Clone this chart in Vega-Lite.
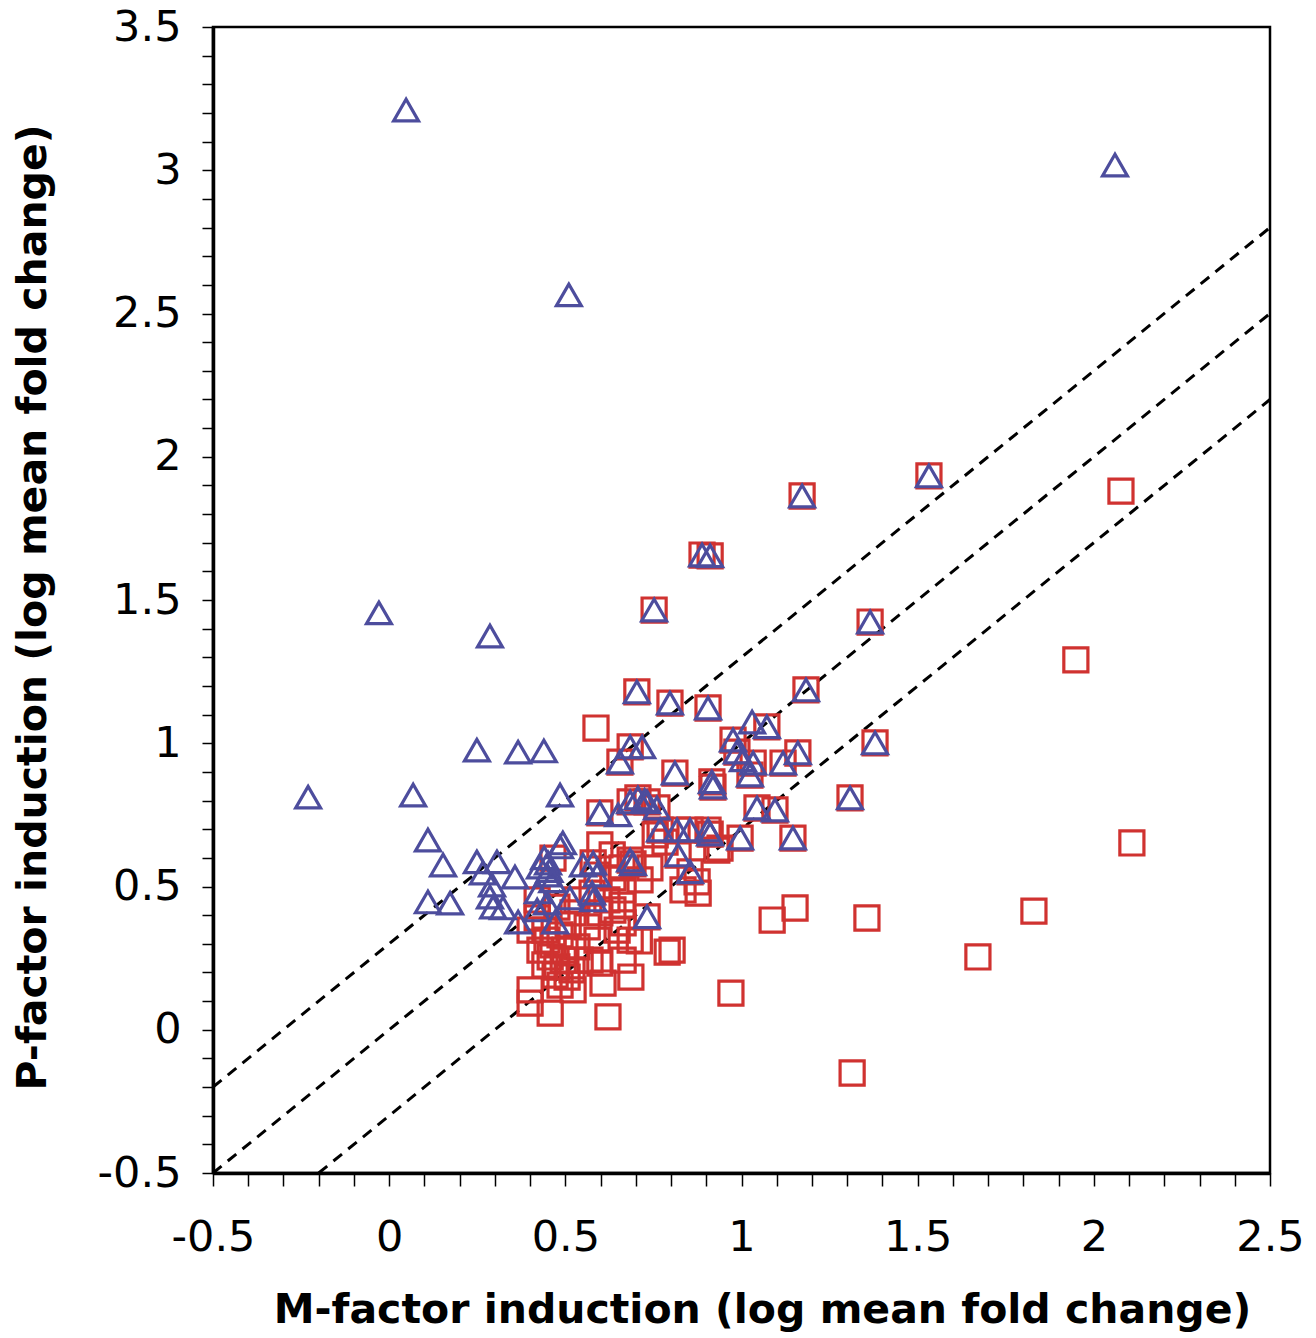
{
  "$schema": "https://vega.github.io/schema/vega-lite/v6.json",
  "width": 1057,
  "height": 1146,
  "autosize": {"type": "none"},
  "padding": {"left": 213, "top": 27, "right": 46, "bottom": 165},
  "background": "white",
  "config": {
    "view": {"stroke": "black", "strokeWidth": 2.5},
    "axis": {
      "grid": false,
      "labelFont": "DejaVu Sans",
      "titleFont": "DejaVu Sans",
      "labelFontSize": 43,
      "titleFontSize": 41,
      "titleFontWeight": "bold",
      "labelColor": "black",
      "titleColor": "black",
      "domainColor": "black",
      "tickColor": "black",
      "domainWidth": 3.5,
      "tickWidth": 1.5,
      "labelOverlap": false,
      "labelFlush": false
    }
  },
  "datasets": {
    "lines": [
      {"line": "upper", "x": -0.5, "y": -0.2}, {"line": "upper", "x": 2.5, "y": 2.8},
      {"line": "middle", "x": -0.5, "y": -0.5}, {"line": "middle", "x": 2.5, "y": 2.5},
      {"line": "lower", "x": -0.2, "y": -0.5}, {"line": "lower", "x": 2.5, "y": 2.2}
    ],
    "points": [
      {"x":1.532,"y":1.933,"s":"sq"},{"x":1.172,"y":1.863,"s":"sq"},{"x":0.888,"y":1.657,"s":"sq"},{"x":0.911,"y":1.654,"s":"sq"},{"x":0.752,"y":1.465,"s":"sq"},{"x":1.365,"y":1.423,"s":"sq"},{"x":0.703,"y":1.179,"s":"sq"},{"x":1.183,"y":1.186,"s":"sq"},{"x":0.797,"y":1.140,"s":"sq"},{"x":0.905,"y":1.123,"s":"sq"},{"x":1.072,"y":1.057,"s":"sq"},{"x":0.976,"y":1.011,"s":"sq"},{"x":0.987,"y":0.969,"s":"sq"},{"x":1.033,"y":0.931,"s":"sq"},{"x":1.024,"y":0.889,"s":"sq"},{"x":1.118,"y":0.931,"s":"sq"},{"x":1.160,"y":0.966,"s":"sq"},{"x":1.379,"y":1.001,"s":"sq"},{"x":0.916,"y":0.865,"s":"sq"},{"x":0.919,"y":0.847,"s":"sq"},{"x":1.308,"y":0.809,"s":"sq"},{"x":1.044,"y":0.774,"s":"sq"},{"x":1.095,"y":0.767,"s":"sq"},{"x":0.905,"y":0.697,"s":"sq"},{"x":0.911,"y":0.683,"s":"sq"},{"x":0.996,"y":0.669,"s":"sq"},{"x":1.146,"y":0.669,"s":"sq"},{"x":0.684,"y":0.987,"s":"sq"},{"x":0.655,"y":0.934,"s":"sq"},{"x":0.811,"y":0.896,"s":"sq"},{"x":0.598,"y":0.757,"s":"sq"},{"x":0.684,"y":0.795,"s":"sq"},{"x":0.706,"y":0.809,"s":"sq"},{"x":0.732,"y":0.795,"s":"sq"},{"x":0.760,"y":0.774,"s":"sq"},{"x":0.769,"y":0.697,"s":"sq"},{"x":0.817,"y":0.697,"s":"sq"},{"x":0.854,"y":0.697,"s":"sq"},{"x":0.684,"y":0.592,"s":"sq"},{"x":0.692,"y":0.579,"s":"sq"},{"x":0.820,"y":0.610,"s":"sq"},{"x":0.854,"y":0.551,"s":"sq"},{"x":0.732,"y":0.394,"s":"sq"},{"x":0.579,"y":0.582,"s":"sq"},{"x":0.590,"y":0.540,"s":"sq"},{"x":0.576,"y":0.477,"s":"sq"},
      {"x":2.077,"y":1.880,"s":"sq"},{"x":1.949,"y":1.291,"s":"sq"},{"x":2.108,"y":0.652,"s":"sq"},{"x":1.830,"y":0.414,"s":"sq"},{"x":1.671,"y":0.254,"s":"sq"},{"x":1.314,"y":-0.151,"s":"sq"},{"x":1.356,"y":0.390,"s":"sq"},{"x":1.152,"y":0.425,"s":"sq"},{"x":1.087,"y":0.383,"s":"sq"},{"x":0.970,"y":0.128,"s":"sq"},{"x":0.587,"y":1.053,"s":"sq"},{"x":0.874,"y":0.516,"s":"sq"},{"x":0.877,"y":0.477,"s":"sq"},{"x":0.930,"y":0.627,"s":"sq"},{"x":0.621,"y":0.045,"s":"sq"},{"x":0.457,"y":0.058,"s":"sq"},{"x":0.400,"y":0.093,"s":"sq"},{"x":0.400,"y":0.139,"s":"sq"},{"x":0.522,"y":0.139,"s":"sq"},{"x":0.607,"y":0.163,"s":"sq"},{"x":0.686,"y":0.184,"s":"sq"},{"x":0.789,"y":0.271,"s":"sq"},{"x":0.803,"y":0.278,"s":"sq"},{"x":0.664,"y":0.243,"s":"sq"},{"x":0.684,"y":0.313,"s":"sq"},{"x":0.664,"y":0.373,"s":"sq"},{"x":0.647,"y":0.348,"s":"sq"},{"x":0.635,"y":0.418,"s":"sq"},{"x":0.664,"y":0.488,"s":"sq"},{"x":0.618,"y":0.453,"s":"sq"},{"x":0.598,"y":0.408,"s":"sq"},{"x":0.590,"y":0.313,"s":"sq"},{"x":0.570,"y":0.243,"s":"sq"},{"x":0.598,"y":0.233,"s":"sq"},{"x":0.562,"y":0.359,"s":"sq"},{"x":0.533,"y":0.289,"s":"sq"},{"x":0.533,"y":0.453,"s":"sq"},{"x":0.522,"y":0.408,"s":"sq"},{"x":0.476,"y":0.428,"s":"sq"},{"x":0.420,"y":0.453,"s":"sq"},{"x":0.400,"y":0.348,"s":"sq"},{"x":0.448,"y":0.313,"s":"sq"},{"x":0.457,"y":0.254,"s":"sq"},{"x":0.476,"y":0.219,"s":"sq"},{"x":0.505,"y":0.184,"s":"sq"},{"x":0.494,"y":0.243,"s":"sq"},{"x":0.519,"y":0.209,"s":"sq"},{"x":0.834,"y":0.488,"s":"sq"},{"x":0.442,"y":0.348,"s":"sq"},{"x":0.465,"y":0.296,"s":"sq"},{"x":0.485,"y":0.331,"s":"sq"},{"x":0.499,"y":0.278,"s":"sq"},{"x":0.442,"y":0.226,"s":"sq"},{"x":0.471,"y":0.191,"s":"sq"},{"x":0.485,"y":0.156,"s":"sq"},{"x":0.508,"y":0.366,"s":"sq"},{"x":0.428,"y":0.278,"s":"sq"},{"x":0.542,"y":0.243,"s":"sq"},{"x":0.465,"y":0.599,"s":"sq"},{"x":0.635,"y":0.530,"s":"sq"},{"x":0.661,"y":0.565,"s":"sq"},{"x":0.712,"y":0.523,"s":"sq"},{"x":0.740,"y":0.565,"s":"sq"},{"x":0.633,"y":0.610,"s":"sq"},{"x":0.598,"y":0.645,"s":"sq"},{"x":0.755,"y":0.680,"s":"sq"},{"x":0.783,"y":0.655,"s":"sq"},{"x":0.939,"y":0.634,"s":"sq"},{"x":0.661,"y":0.435,"s":"sq"},{"x":0.420,"y":0.390,"s":"sq"},{"x":0.710,"y":0.310,"s":"sq"},
      {"x":1.532,"y":1.933,"s":"tri"},{"x":1.172,"y":1.863,"s":"tri"},{"x":0.888,"y":1.657,"s":"tri"},{"x":0.911,"y":1.654,"s":"tri"},{"x":0.752,"y":1.465,"s":"tri"},{"x":1.365,"y":1.423,"s":"tri"},{"x":0.703,"y":1.179,"s":"tri"},{"x":1.183,"y":1.186,"s":"tri"},{"x":0.797,"y":1.140,"s":"tri"},{"x":0.905,"y":1.123,"s":"tri"},{"x":1.072,"y":1.057,"s":"tri"},{"x":0.976,"y":1.011,"s":"tri"},{"x":0.987,"y":0.969,"s":"tri"},{"x":1.033,"y":0.931,"s":"tri"},{"x":1.024,"y":0.889,"s":"tri"},{"x":1.118,"y":0.931,"s":"tri"},{"x":1.160,"y":0.966,"s":"tri"},{"x":1.379,"y":1.001,"s":"tri"},{"x":0.916,"y":0.865,"s":"tri"},{"x":0.919,"y":0.847,"s":"tri"},{"x":1.308,"y":0.809,"s":"tri"},{"x":1.044,"y":0.774,"s":"tri"},{"x":1.095,"y":0.767,"s":"tri"},{"x":0.905,"y":0.697,"s":"tri"},{"x":0.911,"y":0.683,"s":"tri"},{"x":0.996,"y":0.669,"s":"tri"},{"x":1.146,"y":0.669,"s":"tri"},{"x":0.684,"y":0.987,"s":"tri"},{"x":0.655,"y":0.934,"s":"tri"},{"x":0.811,"y":0.896,"s":"tri"},{"x":0.598,"y":0.757,"s":"tri"},{"x":0.684,"y":0.795,"s":"tri"},{"x":0.706,"y":0.809,"s":"tri"},{"x":0.732,"y":0.795,"s":"tri"},{"x":0.760,"y":0.774,"s":"tri"},{"x":0.769,"y":0.697,"s":"tri"},{"x":0.817,"y":0.697,"s":"tri"},{"x":0.854,"y":0.697,"s":"tri"},{"x":0.684,"y":0.592,"s":"tri"},{"x":0.692,"y":0.579,"s":"tri"},{"x":0.820,"y":0.610,"s":"tri"},{"x":0.854,"y":0.551,"s":"tri"},{"x":0.732,"y":0.394,"s":"tri"},{"x":0.579,"y":0.582,"s":"tri"},{"x":0.590,"y":0.540,"s":"tri"},{"x":0.576,"y":0.477,"s":"tri"},
      {"x":0.048,"y":3.210,"s":"tri"},{"x":2.060,"y":3.018,"s":"tri"},{"x":0.510,"y":2.565,"s":"tri"},{"x":-0.029,"y":1.455,"s":"tri"},{"x":0.286,"y":1.374,"s":"tri"},{"x":-0.230,"y":0.812,"s":"tri"},{"x":0.249,"y":0.976,"s":"tri"},{"x":0.366,"y":0.969,"s":"tri"},{"x":0.439,"y":0.973,"s":"tri"},{"x":0.068,"y":0.819,"s":"tri"},{"x":0.485,"y":0.819,"s":"tri"},{"x":0.110,"y":0.662,"s":"tri"},{"x":0.153,"y":0.575,"s":"tri"},{"x":0.110,"y":0.446,"s":"tri"},{"x":0.173,"y":0.442,"s":"tri"},{"x":0.249,"y":0.586,"s":"tri"},{"x":0.306,"y":0.586,"s":"tri"},{"x":0.266,"y":0.547,"s":"tri"},{"x":0.292,"y":0.505,"s":"tri"},{"x":0.357,"y":0.533,"s":"tri"},{"x":0.286,"y":0.463,"s":"tri"},{"x":0.295,"y":0.428,"s":"tri"},{"x":0.323,"y":0.425,"s":"tri"},{"x":0.366,"y":0.376,"s":"tri"},{"x":0.428,"y":0.568,"s":"tri"},{"x":0.448,"y":0.540,"s":"tri"},{"x":0.422,"y":0.481,"s":"tri"},{"x":0.448,"y":0.442,"s":"tri"},{"x":0.420,"y":0.418,"s":"tri"},{"x":0.471,"y":0.376,"s":"tri"},{"x":0.493,"y":0.652,"s":"tri"},{"x":0.485,"y":0.638,"s":"tri"},{"x":0.513,"y":0.460,"s":"tri"},{"x":0.550,"y":0.575,"s":"tri"},{"x":0.579,"y":0.453,"s":"tri"},{"x":0.451,"y":0.582,"s":"tri"},{"x":0.440,"y":0.600,"s":"tri"},{"x":0.455,"y":0.555,"s":"tri"},{"x":0.463,"y":0.520,"s":"tri"},{"x":1.030,"y":1.074,"s":"tri"},{"x":1.004,"y":0.942,"s":"tri"},{"x":0.718,"y":0.987,"s":"tri"},{"x":0.650,"y":0.750,"s":"tri"},{"x":0.725,"y":0.800,"s":"tri"}
    ]
  },
  "encoding": {
    "x": {
      "field": "x", "type": "quantitative",
      "scale": {"domain": [-0.5, 2.5], "nice": false, "zero": false},
      "axis": {
        "title": "M-factor induction (log mean fold change)",
        "values": [-0.5,-0.4,-0.3,-0.2,-0.1,0,0.1,0.2,0.3,0.4,0.5,0.6,0.7,0.8,0.9,1,1.1,1.2,1.3,1.4,1.5,1.6,1.7,1.8,1.9,2,2.1,2.2,2.3,2.4,2.5],
        "labelExpr": "abs(datum.value*2 - round(datum.value*2)) < 0.001 ? toString(datum.value) : ''",
        "tickSize": 13,
        "labelPadding": 30,
        "titlePadding": 31,
        "titleX": 549
      }
    },
    "y": {
      "field": "y", "type": "quantitative",
      "scale": {"domain": [-0.5, 3.5], "nice": false, "zero": false},
      "axis": {
        "title": "P-factor induction (log mean fold change)",
        "values": [-0.5,-0.4,-0.3,-0.2,-0.1,0,0.1,0.2,0.3,0.4,0.5,0.6,0.7,0.8,0.9,1,1.1,1.2,1.3,1.4,1.5,1.6,1.7,1.8,1.9,2,2.1,2.2,2.3,2.4,2.5,2.6,2.7,2.8,2.9,3,3.1,3.2,3.3,3.4,3.5],
        "labelExpr": "abs(datum.value*2 - round(datum.value*2)) < 0.001 ? toString(datum.value) : ''",
        "tickSize": 11,
        "labelPadding": 21,
        "titlePadding": 43,
        "titleY": 580
      }
    }
  },
  "layer": [
    {
      "data": {"name": "lines"},
      "mark": {"type": "line", "color": "black", "strokeWidth": 3, "strokeDash": [11, 8], "clip": true},
      "encoding": {"detail": {"field": "line"}}
    },
    {
      "data": {"name": "points"},
      "transform": [{"filter": "datum.s == 'sq'"}],
      "mark": {"type": "point", "shape": "square", "filled": false, "size": 580, "strokeWidth": 3.2, "color": "#d03230", "opacity": 1}
    },
    {
      "data": {"name": "points"},
      "transform": [{"filter": "datum.s == 'tri'"}],
      "mark": {"type": "point", "shape": "triangle-up", "filled": false, "size": 620, "strokeWidth": 3.2, "color": "#4d4d9d", "opacity": 1}
    }
  ]
}
